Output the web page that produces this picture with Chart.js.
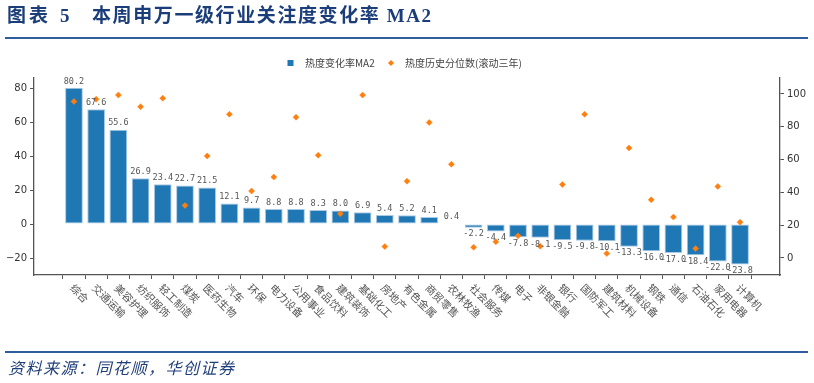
<!DOCTYPE html>
<html>
<head>
<meta charset="utf-8">
<script src="https://cdn.jsdelivr.net/npm/chart.js@4/dist/chart.umd.min.js"></script>
<style>
  html, body { margin: 0; padding: 0; background: #fff; width: 814px; height: 383px; overflow: hidden; }
  #wrap { position: relative; width: 814px; height: 383px; }
  canvas { position: absolute; left: 0; top: 0; }
  .t { position: absolute; color: #1b3e7b; font-weight: bold; white-space: nowrap;
       font-family: "Liberation Serif", "Noto Sans CJK SC", serif; font-size: 19px; line-height: 20px; top: 6px; }
  .rule { position: absolute; left: 5px; width: 803px; height: 2px; background: #2f5d9e; }
  #src { position: absolute; left: 8px; top: 357px; color: #1f3f7a; font-style: italic; white-space: nowrap;
         font-family: "Noto Sans CJK SC", sans-serif; font-size: 16px; line-height: 20px; letter-spacing: 1.5px; }
</style>
</head>
<body>
<div id="wrap">
  <canvas id="c" width="814" height="383"></canvas>
  <div class="t" style="left:7px; letter-spacing:3px;">图表</div>
  <div class="t" style="left:60px;">5</div>
  <div class="t" style="left:92px; letter-spacing:1.6px;">本周申万一级行业关注度变化率 MA2</div>
  <div class="rule" style="top:37px;"></div>
  <div class="rule" style="top:351px;"></div>
  <div id="src">资料来源：同花顺，华创证券</div>
</div>
<script>
const categories = ["综合","交通运输","美容护理","纺织服饰","轻工制造","煤炭","医药生物","汽车","环保","电力设备",
  "公用事业","食品饮料","建筑装饰","基础化工","房地产","有色金属","商贸零售","农林牧渔","社会服务","传媒",
  "电子","非银金融","银行","国防军工","建筑材料","机械设备","钢铁","通信","石油石化","家用电器","计算机"];
const changeMA2 = [80.2,67.6,55.6,26.9,23.4,22.7,21.5,12.1,9.7,8.8,
  8.8,8.3,8.0,6.9,5.4,5.2,4.1,0.4,-2.2,-4.4,
  -7.8,-8.1,-9.5,-9.8,-10.1,-13.3,-16.0,-17.0,-18.4,-22.0,-23.8];
const percentile = [95.4,96.8,99.3,92.2,97.4,32.0,62.2,87.6,40.8,49.3,
  85.8,62.6,26.9,99.3,6.9,46.8,82.6,57.1,6.5,9.8,
  13.5,7.1,44.8,87.6,2.7,67.1,35.4,24.9,5.7,43.6,21.8];
const leftTicks = [-20,0,20,40,60,80];
const rightTicks = [0,20,40,60,80,100];
const seriesNames = ["热度变化率MA2","热度历史分位数(滚动三年)"];

const BLUE = "#1f77b4", ORANGE = "#ff7f0e";
const fmt = v => String(v).replace("-", "\u2212");

const overlay = {
  id: "overlay",
  afterDraw(chart) {
    const ctx = chart.ctx;
    const xs = chart.scales.x;
    const area = chart.chartArea;
    ctx.save();
    // value labels
    const meta = chart.getDatasetMeta(0);
    ctx.font = '8.5px "DejaVu Sans Mono", monospace';
    ctx.fillStyle = "#555";
    ctx.textAlign = "center";
    ctx.textBaseline = "middle";
    meta.data.forEach((el, i) => {
      const v = changeMA2[i];
      const y = v >= 0 ? el.y - 6.5 : el.y + 6.5;
      ctx.fillText(v.toFixed(1), el.x, y);
    });
    // rotated category labels
    ctx.font = '10.5px "Noto Sans CJK SC", sans-serif';
    ctx.fillStyle = "#555";
    ctx.textAlign = "left";
    ctx.textBaseline = "middle";
    categories.forEach((c, i) => {
      const x = xs.getPixelForValue(i);
      ctx.save();
      ctx.translate(x - 2, area.bottom + 11);
      ctx.rotate(Math.PI / 4);
      ctx.fillText(c, 0, 0);
      ctx.restore();
    });
    // legend
    ctx.font = '10px "Noto Sans CJK SC", sans-serif';
    ctx.fillStyle = BLUE;
    ctx.fillRect(287.5, 60, 6, 6);
    ctx.fillStyle = "#444";
    ctx.fillText(seriesNames[0], 305, 63);
    ctx.fillStyle = ORANGE;
    ctx.beginPath();
    ctx.moveTo(391, 60); ctx.lineTo(394, 63); ctx.lineTo(391, 66); ctx.lineTo(388, 63); ctx.closePath();
    ctx.fill();
    ctx.fillStyle = "#444";
    ctx.fillText(seriesNames[1], 405, 63);
    ctx.restore();
  }
};

new Chart(document.getElementById("c"), {
  data: {
    datasets: [
      {
        type: "bar",
        label: seriesNames[0],
        data: changeMA2.map((v, i) => ({ x: i, y: v })),
        backgroundColor: BLUE,
        borderColor: "#a9c9e6",
        borderWidth: 1,
        borderSkipped: false,
        barPercentage: 0.8,
        categoryPercentage: 1.0,
        yAxisID: "y",
        order: 2
      },
      {
        type: "scatter",
        label: seriesNames[1],
        data: percentile.map((v, i) => ({ x: i, y: v })),
        backgroundColor: ORANGE,
        borderColor: ORANGE,
        pointStyle: "rectRot",
        pointRadius: 3,
        borderWidth: 0.5,
        yAxisID: "y2",
        order: 1
      }
    ]
  },
  options: {
    responsive: false,
    animation: false,
    events: [],
    layout: { padding: { top: 78, bottom: 108, left: 0, right: 0 } },
    plugins: { legend: { display: false }, tooltip: { enabled: false } },
    scales: {
      x: {
        type: "linear",
        min: -1.8,
        max: 31.8,
        offset: false,
        afterBuildTicks: s => { s.ticks = categories.map((c, i) => ({ value: i })); },
        afterFit: s => { s.height = 0; },
        ticks: { display: false },
        grid: { drawOnChartArea: false, drawTicks: true, tickLength: 4, color: "#555", lineWidth: 1 },
        border: { display: true, color: "#555", width: 1.3 }
      },
      y: {
        type: "linear",
        position: "left",
        min: -30,
        max: 86,
        afterBuildTicks: s => { s.ticks = leftTicks.map(v => ({ value: v })); },
        afterFit: s => { s.width = 34; },
        ticks: { color: "#333", font: { family: "DejaVu Sans", size: 10 }, padding: 3, callback: v => fmt(v) },
        grid: { drawOnChartArea: false, drawTicks: true, tickLength: 4, color: "#555" },
        border: { display: true, color: "#555", width: 1.3 }
      },
      y2: {
        type: "linear",
        position: "right",
        min: -10.4,
        max: 109.7,
        afterBuildTicks: s => { s.ticks = rightTicks.map(v => ({ value: v })); },
        afterFit: s => { s.width = 34; },
        ticks: { color: "#333", font: { family: "DejaVu Sans", size: 10 }, padding: 3, callback: v => fmt(v) },
        grid: { drawOnChartArea: false, drawTicks: true, tickLength: 4, color: "#555" },
        border: { display: true, color: "#555", width: 1.3 }
      }
    }
  },
  plugins: [overlay]
});
</script>
</body>
</html>
